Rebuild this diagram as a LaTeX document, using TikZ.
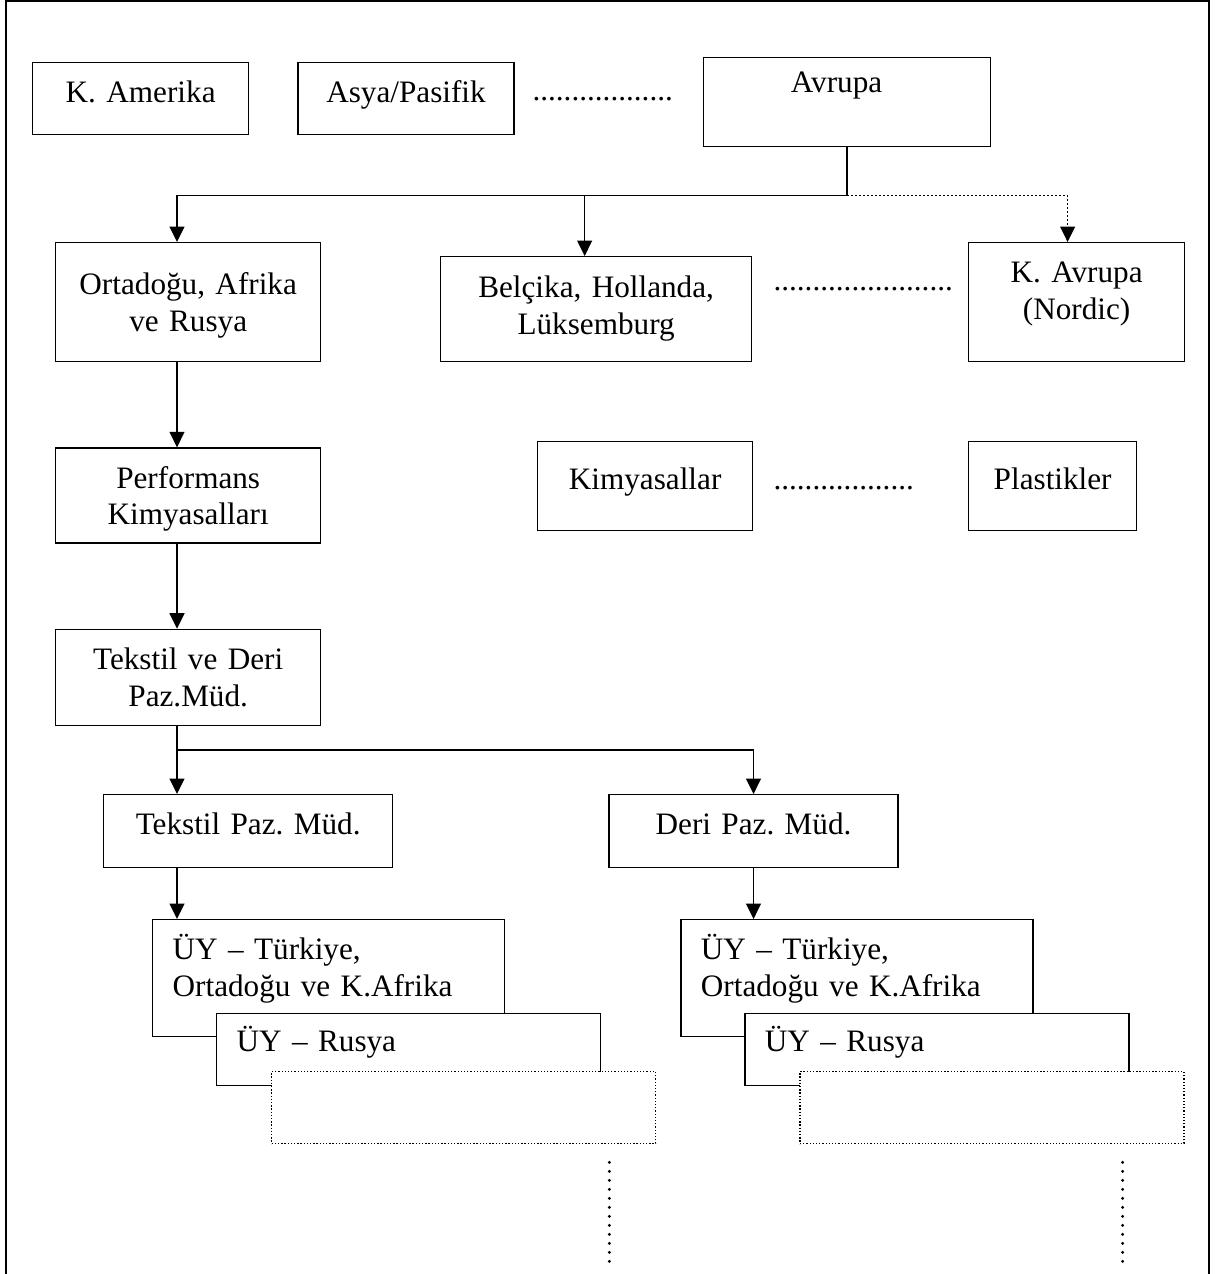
\documentclass[tikz,border=0pt]{standalone}
\usepackage{fontspec}
\setmainfont{Liberation Serif}
\usetikzlibrary{arrows.meta,positioning}

\begin{document}
\begin{tikzpicture}[
        x=0.375pt, y=-0.375pt,
        >={Triangle[length=5.8pt,width=5.6pt]},
        every node/.style={font=\fontsize{11.7pt}{13.75pt}\selectfont\frenchspacing},
        block/.style={
            draw,
            fill=white,
            line width=0.5pt,
            align=center,
            anchor=north west,
            inner sep=0pt,
            text height=15pt
        },
        unit/.style={
            block,
            align=left,
            inner xsep=7.5pt,
            text width=129pt,
            text height=14pt,
            text depth=13pt
        },
        spare/.style={
            unit,
            dash pattern=on 0.5pt off 0.7pt
        },
        etc/.style={anchor=base west, inner sep=0pt},
        arrow/.style={->, line width=0.5pt},
        link/.style={line width=0.5pt},
        dotlink/.style={line width=0.6pt, dash pattern=on 0.6pt off 0.9pt},
        more/.style={line width=1.2pt, line cap=round, dash pattern=on 0pt off 3.375pt}
    ]

    \useasboundingbox (0,0) rectangle (1219,1274);
    \draw[line width=0.8pt] (6,1274) -- (6,1) -- (1209,1) -- (1209,1274);

    % regions
    \node[block, text width=81pt, text depth=12pt] (amerika) at (32,62) {K. Amerika};
    \node[block, text width=81pt, text depth=12pt, right=18pt of amerika] (asya) {Asya/Pasifik};
    \node[etc] (gap1) at (532,100) {..................};
    \node[block, text width=107.6pt, text height=13.1pt, text depth=20.3pt] (avrupa) at (703,57) {Avrupa\rule{7.9pt}{0pt}};

    \node[block, text width=99.4pt, text height=19.5pt, text depth=25.1pt] (orta) at (55,242) {Ortadoğu, Afrika\\ve Rusya};
    \node[block, text width=116.6pt, text height=15.4pt, text depth=24pt] (belcika) at (440,256) {Belçika, Hollanda,\\Lüksemburg};
    \node[etc] (gap2) at (773,290) {.......................};
    \node[block, text width=81pt, text depth=29.6pt] (kavrupa) at (968,242) {K. Avrupa\\(Nordic)};

    % business lines
    \node[block, text width=99.4pt, text depth=20.6pt, below=31.9pt of orta] (perf) {Performans\\Kimyasalları};
    \node[block, text width=80.6pt, text height=18pt, text depth=15.4pt] (kimya) at (537,441) {Kimyasallar};
    \node[etc] (gap3) at (773,489) {..................};
    \node[block, text width=63pt, text height=18pt, text depth=15.4pt] (plastik) at (968,441) {Plastikler};

    \node[block, text width=99.4pt, text depth=21pt, below=31.9pt of perf] (tdpm) {Tekstil ve Deri\\Paz.Müd.};
    \node[block, text width=108.4pt, text depth=12.4pt] (tpm) at (103,794) {Tekstil Paz. Müd.};
    \node[block, text width=108.4pt, text depth=12.4pt, right=80.6pt of tpm] (dpm) {Deri Paz. Müd.};

    % sales managers
    \node[unit, text width=117pt, text height=15pt, text depth=28.9pt] (uyt1) at (152,919) {ÜY – Türkiye,\\Ortadoğu ve K.Afrika};
    \node[unit] (uyr1) at ([shift={(64,94)}]uyt1.north west) {ÜY – Rusya};
    \node[spare] (spare1) at ([shift={(55,58)}]uyr1.north west) {};

    \node[unit, text width=117pt, text height=15pt, text depth=28.9pt, right=65.6pt of uyt1] (uyt2) {ÜY – Türkiye,\\Ortadoğu ve K.Afrika};
    \node[unit] (uyr2) at ([shift={(64,94)}]uyt2.north west) {ÜY – Rusya};
    \node[spare] (spare2) at ([shift={(55,58)}]uyr2.north west) {};

    \coordinate (lane) at (177,0);
    \path (avrupa.south) ++(0,48) coordinate (split);
    \draw[link] (avrupa.south) -- (split);
    \draw[arrow] (split) -| (orta.north -| lane);
    \draw[arrow] ([xshift=-4.3pt]belcika.north |- split) -- ([xshift=-4.3pt]belcika.north);
    \draw[dotlink, ->] (split) -| ([xshift=-3.4pt]kavrupa.north);

    \draw[arrow] (orta.south -| lane) -- (perf.north -| lane);
    \draw[arrow] (perf.south -| lane) -- (tdpm.north -| lane);

    \path (tdpm.south -| lane) ++(0,24) coordinate (bus);
    \draw[link] (tdpm.south -| lane) -- (bus);
    \draw[arrow] (bus) -- (tpm.north -| lane);
    \draw[arrow] (bus) -| (dpm.north);

    \draw[arrow] (tpm.south -| lane) -- (uyt1.north -| lane);
    \draw[arrow] (dpm.south) -- (uyt2.north -| dpm.south);

    \path (spare1.south east) ++(-47,18) coordinate (more1);
    \draw[more] (more1) -- ++(0,99);
    \path (spare2.south east) ++(-62,18) coordinate (more2);
    \draw[more] (more2) -- ++(0,99);

\end{tikzpicture}
\end{document}
